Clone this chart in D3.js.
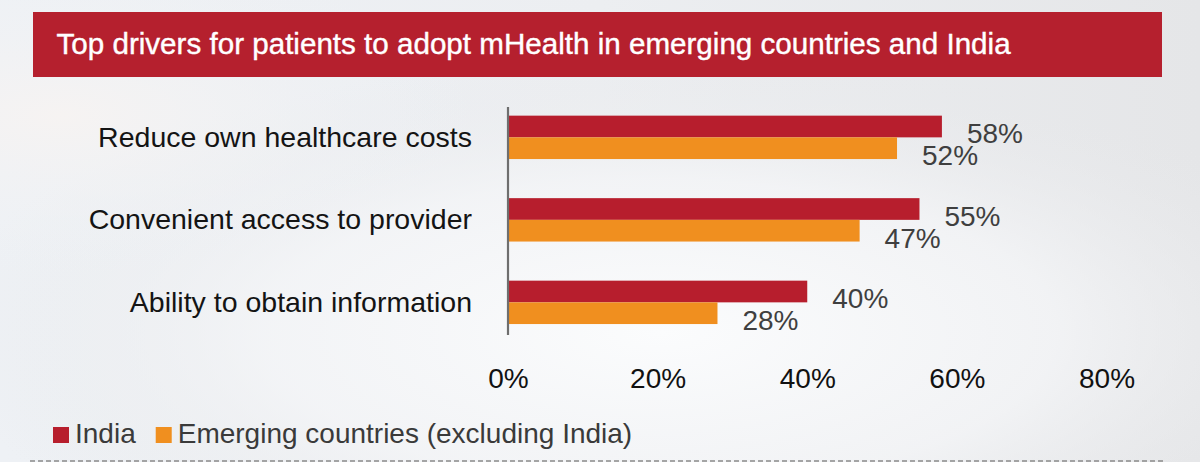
<!DOCTYPE html>
<html>
<head>
<meta charset="utf-8">
<script src="https://cdn.jsdelivr.net/npm/d3@7"></script>
<style>
  html, body { margin: 0; padding: 0; background: #eceef0; }
  svg { display: block; }
  text { font-family: "Liberation Sans", Arial, Helvetica, sans-serif; }
</style>
</head>
<body>
<svg id="chart" width="1200" height="462"></svg>
<script>
const title = "Top drivers for patients to adopt mHealth in emerging countries and India";
const categories = ["Reduce own healthcare costs", "Convenient access to provider", "Ability to obtain information"];
const seriesNames = ["India", "Emerging countries (excluding India)"];
const indiaValues = [58, 55, 40];
const emergingValues = [52, 47, 28];
const tickValues = [0, 20, 40, 60, 80];
const colors = ["#B71E2D", "#F08F1F"];

const svg = d3.select("#chart");
const W = 1200, H = 462;

// background
const defs = svg.append("defs");
const g1 = defs.append("radialGradient").attr("id", "bgGlow")
  .attr("cx", 0.55).attr("cy", 0.72).attr("r", 0.6);
g1.append("stop").attr("offset", "0%").attr("stop-color", "#fbfcfd").attr("stop-opacity", 1);
g1.append("stop").attr("offset", "55%").attr("stop-color", "#f4f5f7").attr("stop-opacity", 0.8);
g1.append("stop").attr("offset", "100%").attr("stop-color", "#e6e7e9").attr("stop-opacity", 0);
const g2 = defs.append("radialGradient").attr("id", "bgLeft")
  .attr("cx", 0.05).attr("cy", 0.25).attr("r", 0.35);
g2.append("stop").attr("offset", "0%").attr("stop-color", "#f6f3f2").attr("stop-opacity", 1);
g2.append("stop").attr("offset", "100%").attr("stop-color", "#eef2f6").attr("stop-opacity", 0);
const g3 = defs.append("linearGradient").attr("id", "bgBase")
  .attr("x1", 0).attr("x2", 1).attr("y1", 0).attr("y2", 0);
g3.append("stop").attr("offset", "0%").attr("stop-color", "#eef1f5");
g3.append("stop").attr("offset", "50%").attr("stop-color", "#eceef1");
g3.append("stop").attr("offset", "100%").attr("stop-color", "#e5e6e8");

svg.append("rect").attr("width", W).attr("height", H).attr("fill", "url(#bgBase)");
svg.append("rect").attr("width", W).attr("height", H).attr("fill", "url(#bgGlow)");
svg.append("rect").attr("width", W).attr("height", H).attr("fill", "url(#bgLeft)");

// title bar
svg.append("rect").attr("x", 33).attr("y", 12).attr("width", 1129).attr("height", 65)
  .attr("fill", "#B5202E");
svg.append("text").attr("x", 56.5).attr("y", 53.5)
  .attr("fill", "#ffffff").attr("stroke", "#ffffff").attr("stroke-width", 0.4)
  .style("font-size", "29.6px").text(title);

// scales
const x = d3.scaleLinear().domain([0, 80]).range([508, 1106.5]);
const y = d3.scaleBand().domain(categories).range([96.1, 343.6])
  .paddingInner(0.474).paddingOuter(0.237);
const ySub = d3.scaleBand().domain(seriesNames).range([0, y.bandwidth()]);

const rows = categories.map((c, i) => ({
  category: c,
  values: [
    { series: seriesNames[0], value: indiaValues[i], color: colors[0] },
    { series: seriesNames[1], value: emergingValues[i], color: colors[1] }
  ]
}));

const groups = svg.append("g").selectAll("g").data(rows).join("g")
  .attr("transform", d => `translate(0,${y(d.category)})`);

groups.selectAll("rect").data(d => d.values).join("rect")
  .attr("x", x(0))
  .attr("y", d => ySub(d.series))
  .attr("width", d => x(d.value) - x(0))
  .attr("height", ySub.bandwidth())
  .attr("fill", d => d.color);

groups.selectAll("text.val").data(d => d.values).join("text")
  .attr("class", "val")
  .attr("x", d => x(d.value) + 25)
  .attr("y", d => ySub(d.series) + ySub.bandwidth() + 6)
  .attr("fill", "#3f3f3f")
  .style("font-size", "28px")
  .text(d => d.value + "%");

// category labels
svg.append("g").selectAll("text").data(categories).join("text")
  .attr("x", 472)
  .attr("y", d => y(d) + y.bandwidth() / 2 + 9.5)
  .attr("text-anchor", "end")
  .attr("fill", "#141414")
  .style("font-size", "28.5px")
  .text(d => d);

// vertical axis line
svg.append("line")
  .attr("x1", x(0)).attr("x2", x(0))
  .attr("y1", 107).attr("y2", 335)
  .attr("stroke", "#6e6e6e").attr("stroke-width", 2.2);

// x axis tick labels
const xAxis = d3.axisBottom(x).tickValues(tickValues).tickFormat(d => d + "%").tickSize(0).tickPadding(0);
const axG = svg.append("g").attr("transform", "translate(0,367)").call(xAxis);
axG.select(".domain").remove();
axG.selectAll("text")
  .attr("dy", null)
  .attr("y", 20.7)
  .attr("fill", "#111")
  .style("font-size", "28px")
  .style("font-family", "'Liberation Sans', Arial, sans-serif");

// legend
const legend = svg.append("g");
let lx = 53;
seriesNames.forEach((name, i) => {
  legend.append("rect").attr("x", lx).attr("y", 427).attr("width", 16).attr("height", 16)
    .attr("fill", colors[i]);
  const t = legend.append("text").attr("x", lx + 22).attr("y", 443.3)
    .attr("fill", "#3a3a3a").style("font-size", "28px").text(name);
  lx = lx + 22 + t.node().getComputedTextLength() + 20;
});

// dashed line at bottom
svg.append("line").attr("x1", 30).attr("x2", 1165).attr("y1", 461).attr("y2", 461)
  .attr("stroke", "#8a8a8a").attr("stroke-width", 1.5).attr("stroke-dasharray", "5,3");
</script>
</body>
</html>
